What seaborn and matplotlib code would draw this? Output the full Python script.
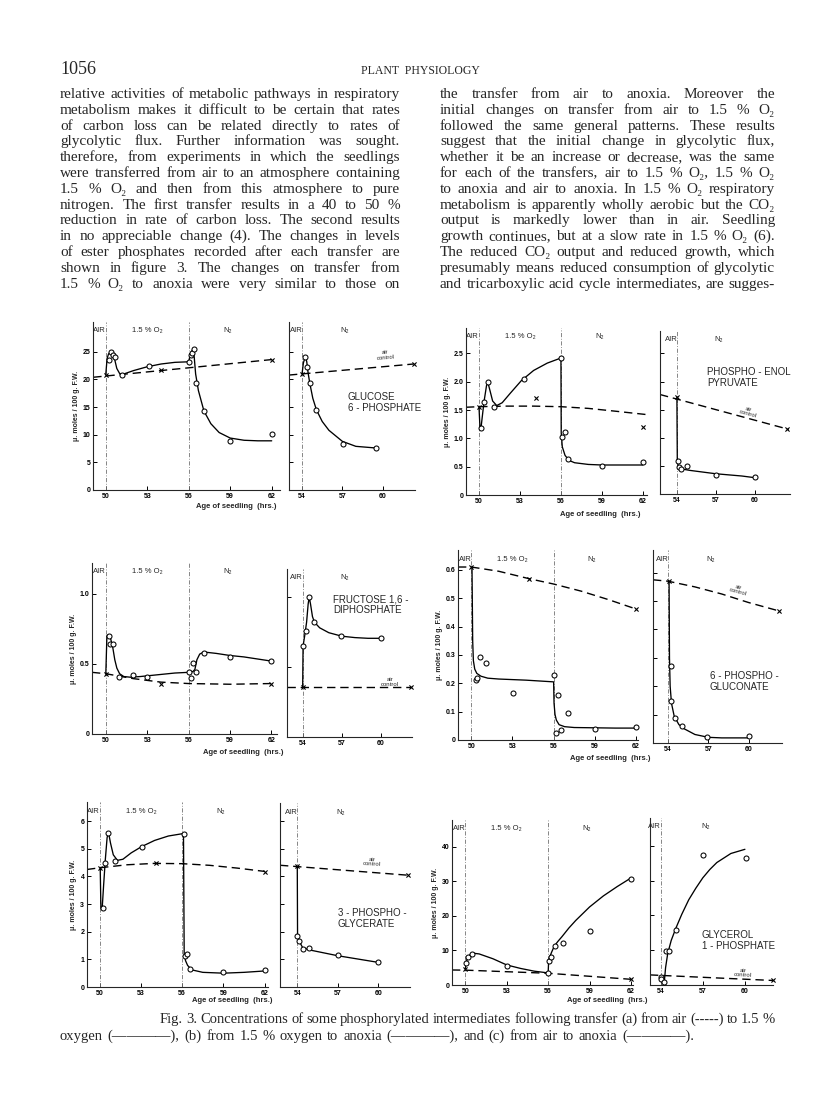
import matplotlib
matplotlib.use("Agg")
import matplotlib.pyplot as plt
import seaborn as sns

W, H = 816, 1109

# ---------------------------------------------------------
# Data (age in hrs vs umoles / 100 g F.W.)
# obs = open circles, fit = hand drawn curve, ctrl = air control
# ---------------------------------------------------------
# Glucose 6-phosphate: air -> 1.5 % O2 -> N2
g6p_obs_x = [50.25, 50.4, 50.55, 50.7, 51.2, 53.1, 56.05, 56.15, 56.25, 56.35, 56.55, 57.1, 59.0, 62.0]
g6p_obs_y = [23.5, 25.0, 24.5, 24.0, 20.9, 22.4, 23.2, 24.4, 24.8, 25.5, 19.3, 14.3, 8.8, 10.2]
g6p_fit_x = [50.0, 50.1, 50.2, 50.35, 50.5, 50.65, 50.8, 51.0, 51.2, 52.0, 53.0, 54.0, 55.0, 56.0,
             56.1, 56.2, 56.3, 56.4, 56.5, 56.7, 57.1, 57.6, 58.2, 59.0, 60.0, 61.0, 62.0]
g6p_fit_y = [20.8, 23.8, 24.6, 25.0, 24.6, 23.6, 22.0, 21.1, 20.9, 21.6, 22.3, 22.8, 23.1, 23.2,
             24.4, 25.0, 25.5, 24.0, 21.0, 18.0, 14.3, 12.0, 10.4, 9.4, 9.0, 8.9, 8.9]
g6p_ctrl_x = [49.1, 62.0]
g6p_ctrl_y = [20.4, 23.6]
g6p_cross_x = [50.0, 54.0, 62.0]
g6p_cross_y = [20.8, 21.8, 23.6]
# Glucose 6-phosphate: air -> N2
g6p_an_obs_x = [54.25, 54.4, 54.57, 55.07, 57.05, 59.5]
g6p_an_obs_y = [24.0, 22.2, 19.4, 14.5, 8.4, 7.6]
g6p_an_fit_x = [54.0, 54.1, 54.25, 54.35, 54.45, 54.57, 54.8, 55.07, 55.5, 56.0, 57.0, 58.0, 59.5]
g6p_an_fit_y = [21.0, 23.0, 24.2, 23.2, 21.2, 19.4, 16.6, 14.5, 12.4, 10.8, 8.8, 7.9, 7.6]
g6p_an_ctrl_x = [53.03, 62.3]
g6p_an_ctrl_y = [20.8, 22.8]
g6p_an_cross_x = [54.0, 62.3]
g6p_an_cross_y = [21.0, 22.8]

# Phospho-enol pyruvate
pep_obs_x = [50.15, 50.37, 50.65, 51.1, 53.3, 56.0, 56.1, 56.3, 56.5, 59.0, 62.0]
pep_obs_y = [1.19, 1.65, 1.99, 1.55, 2.05, 2.42, 1.03, 1.11, 0.64, 0.52, 0.59]
pep_fit_x = [50.0, 50.08, 50.15, 50.37, 50.55, 50.65, 50.8, 51.0, 51.3, 51.7, 52.3, 53.1, 54.0,
             55.0, 56.0, 56.02, 56.1, 56.3, 56.6, 57.0, 58.0, 59.0, 60.5, 62.0]
pep_fit_y = [1.56, 1.15, 1.19, 1.65, 1.93, 1.99, 1.85, 1.66, 1.58, 1.63, 1.8, 2.02, 2.2,
             2.33, 2.42, 1.1, 0.85, 0.7, 0.61, 0.57, 0.54, 0.53, 0.53, 0.53]
pep_ctrl_x = [49.05, 50.0, 52.0, 54.0, 56.0, 58.0, 60.0, 62.3]
pep_ctrl_y = [1.55, 1.56, 1.57, 1.57, 1.56, 1.53, 1.48, 1.42]
pep_cross_x = [50.0, 54.2, 62.0]
pep_cross_y = [1.56, 1.72, 1.2]
pep_an_obs_x = [54.05, 54.15, 54.35, 54.8, 57.0, 60.0]
pep_an_obs_y = [0.58, 0.48, 0.44, 0.49, 0.34, 0.30]
pep_an_fit_x = [54.0, 54.03, 54.1, 54.25, 54.5, 55.0, 56.0, 57.0, 58.0, 59.0, 60.0]
pep_an_fit_y = [1.72, 0.62, 0.48, 0.45, 0.44, 0.42, 0.39, 0.36, 0.34, 0.32, 0.29]
pep_an_ctrl_x = [52.7, 62.6]
pep_an_ctrl_y = [1.77, 1.15]
pep_an_cross_x = [54.0, 62.5]
pep_an_cross_y = [1.72, 1.16]

# Fructose 1,6-diphosphate
fdp_obs_x = [50.22, 50.27, 50.55, 50.99, 51.96, 53.0, 56.0, 56.2, 56.3, 56.5, 57.1, 59.0, 62.0]
fdp_obs_y = [0.70, 0.64, 0.64, 0.41, 0.42, 0.41, 0.44, 0.40, 0.51, 0.445, 0.58, 0.55, 0.52]
fdp_fit_x = [50.0, 50.08, 50.2, 50.35, 50.5, 50.65, 50.8, 51.0, 51.3, 51.8, 52.5, 53.0, 54.0,
             55.0, 56.0, 56.3, 56.45, 56.6, 56.8, 57.1, 58.0, 59.0, 60.0, 61.0, 62.0]
fdp_fit_y = [0.43, 0.70, 0.71, 0.68, 0.62, 0.53, 0.47, 0.43, 0.41, 0.405, 0.41, 0.415, 0.425,
             0.435, 0.44, 0.445, 0.46, 0.53, 0.57, 0.585, 0.575, 0.56, 0.55, 0.535, 0.52]
fdp_ctrl_x = [49.0, 50.0, 52.0, 54.0, 56.0, 59.0, 62.0]
fdp_ctrl_y = [0.44, 0.43, 0.395, 0.37, 0.36, 0.355, 0.36]
fdp_cross_x = [50.0, 54.0, 62.0]
fdp_cross_y = [0.43, 0.355, 0.36]
fdp_an_obs_x = [54.02, 54.25, 54.5, 54.9, 56.9, 60.0]
fdp_an_obs_y = [0.65, 0.76, 1.0, 0.82, 0.72, 0.71]
fdp_an_fit_x = [54.0, 54.03, 54.15, 54.3, 54.42, 54.5, 54.6, 54.75, 54.9, 55.3, 56.0, 57.0, 58.0, 59.0, 60.0]
fdp_an_fit_y = [0.36, 0.65, 0.72, 0.82, 0.95, 1.0, 0.95, 0.86, 0.82, 0.78, 0.745, 0.72, 0.71, 0.705, 0.705]
fdp_an_ctrl_x = [52.8, 62.3]
fdp_an_ctrl_y = [0.36, 0.36]
fdp_an_cross_x = [54.0, 62.3]
fdp_an_cross_y = [0.36, 0.36]

# 6-phosphogluconate
pgl_obs_x = [50.37, 50.42, 50.66, 51.1, 53.05, 56.06, 56.18, 56.3, 56.55, 57.08, 59.0, 62.0]
pgl_obs_y = [0.212, 0.22, 0.293, 0.271, 0.164, 0.229, 0.024, 0.159, 0.035, 0.096, 0.038, 0.047]
pgl_fit_x = [50.05, 50.1, 50.15, 50.25, 50.4, 50.7, 51.2, 52.0, 53.0, 54.0, 55.0, 56.0, 56.03,
             56.1, 56.2, 56.4, 56.8, 57.5, 59.0, 60.5, 62.0]
pgl_fit_y = [0.61, 0.35, 0.28, 0.25, 0.235, 0.225, 0.218, 0.215, 0.213, 0.211, 0.208, 0.205, 0.13,
             0.09, 0.07, 0.054, 0.047, 0.044, 0.043, 0.042, 0.042]
pgl_ctrl_x = [49.03, 50.0, 52.0, 54.2, 56.0, 58.0, 60.0, 62.0]
pgl_ctrl_y = [0.61, 0.61, 0.595, 0.569, 0.55, 0.525, 0.495, 0.462]
pgl_cross_x = [50.0, 54.2, 62.0]
pgl_cross_y = [0.61, 0.569, 0.462]
pgl_an_obs_x = [54.18, 54.25, 54.5, 55.0, 56.9, 60.0]
pgl_an_obs_y = [0.273, 0.147, 0.088, 0.059, 0.021, 0.024]
pgl_an_fit_x = [54.07, 54.1, 54.15, 54.25, 54.45, 54.8, 55.2, 56.0, 57.0, 58.0, 60.0]
pgl_an_fit_y = [0.57, 0.30, 0.20, 0.14, 0.095, 0.065, 0.05, 0.03, 0.02, 0.018, 0.018]
pgl_an_ctrl_x = [52.87, 54.0, 56.0, 58.0, 60.0, 62.3]
pgl_an_ctrl_y = [0.575, 0.57, 0.55, 0.525, 0.495, 0.465]
pgl_an_cross_x = [54.07, 62.25]
pgl_an_cross_y = [0.57, 0.465]

# 3-phosphoglycerate
pga_obs_x = [50.22, 50.41, 50.65, 51.13, 53.07, 56.13, 56.2, 56.35, 56.57, 59.0, 62.0]
pga_obs_y = [2.87, 4.48, 5.58, 4.55, 5.08, 5.52, 1.11, 1.2, 0.66, 0.54, 0.63]
pga_fit_x = [50.05, 50.1, 50.2, 50.3, 50.42, 50.55, 50.65, 50.8, 51.0, 51.3, 51.7, 52.3, 53.07,
             54.0, 55.0, 56.1, 56.15, 56.25, 56.4, 56.7, 57.5, 59.0, 60.5, 62.0]
pga_fit_y = [4.31, 2.85, 2.9, 3.7, 4.6, 5.4, 5.6, 5.2, 4.78, 4.58, 4.62, 4.85, 5.08,
             5.3, 5.46, 5.55, 1.2, 0.95, 0.78, 0.62, 0.53, 0.5, 0.53, 0.58]
pga_ctrl_x = [49.09, 50.0, 52.0, 54.0, 56.0, 58.0, 60.0, 62.0]
pga_ctrl_y = [4.25, 4.31, 4.42, 4.47, 4.46, 4.4, 4.3, 4.18]
pga_cross_x = [50.05, 54.08, 62.0]
pga_cross_y = [4.31, 4.48, 4.16]
pga_an_obs_x = [54.0, 54.15, 54.4, 54.9, 57.0, 60.0]
pga_an_obs_y = [1.86, 1.66, 1.39, 1.40, 1.14, 0.89]
pga_an_fit_x = [54.0, 54.02, 54.15, 54.4, 55.0, 56.0, 57.0, 58.0, 59.0, 60.0]
pga_an_fit_y = [4.36, 1.9, 1.65, 1.42, 1.33, 1.23, 1.13, 1.05, 0.97, 0.89]
pga_an_ctrl_x = [52.72, 62.2]
pga_an_ctrl_y = [4.4, 4.04]
pga_an_cross_x = [54.0, 62.2]
pga_an_cross_y = [4.36, 4.04]

# Glycerol 1-phosphate
gp_obs_x = [50.07, 50.2, 50.5, 53.0, 56.0, 56.07, 56.2, 56.48, 57.04, 59.0, 62.0]
gp_obs_y = [6.5, 8.2, 9.0, 5.5, 3.6, 7.0, 8.2, 11.3, 12.3, 15.7, 30.6]
gp_fit_x = [50.0, 50.05, 50.2, 50.4, 50.6, 51.0, 52.0, 53.0, 54.0, 55.0, 56.0, 56.03, 56.1,
            56.25, 56.45, 56.7, 57.0, 57.5, 58.0, 59.0, 60.0, 61.0, 62.0]
gp_fit_y = [4.5, 6.5, 8.2, 9.0, 9.2, 9.0, 7.6, 5.8, 4.8, 4.0, 3.5, 6.5, 8.0,
            9.5, 11.3, 12.6, 14.0, 16.5, 18.7, 22.6, 25.8, 28.5, 31.0]
gp_ctrl_x = [49.03, 50.0, 56.0, 62.0]
gp_ctrl_y = [4.35, 4.3, 3.4, 1.65]
gp_cross_x = [50.0, 62.0]
gp_cross_y = [4.5, 1.7]
gp_an_obs_x = [54.0, 54.05, 54.25, 54.35, 54.6, 55.1, 57.05, 60.05]
gp_an_obs_y = [2.4, 1.8, 1.0, 9.85, 9.7, 15.9, 37.5, 36.4]
gp_an_fit_x = [54.25, 54.35, 54.5, 54.75, 55.1, 55.5, 56.0, 56.5, 57.0, 57.5, 58.0, 59.0, 60.0]
gp_an_fit_y = [0.5, 5.0, 9.0, 12.8, 16.5, 20.3, 24.5, 27.8, 30.8, 33.2, 35.2, 37.8, 39.0]
gp_an_ctrl_x = [53.24, 62.0]
gp_an_ctrl_y = [2.9, 1.3]
gp_an_cross_x = [62.0]
gp_an_cross_y = [1.3]

big_xticks = [50, 53, 56, 59, 62]
small_xticks = [54, 57, 60]

# ---------------------------------------------------------
# Page text
# ---------------------------------------------------------
left_col = [
    "relative activities of metabolic pathways in respiratory",
    "metabolism makes it difficult to be certain that rates",
    "of carbon loss can be related directly to rates of",
    "glycolytic flux. Further information was sought.",
    "therefore, from experiments in which the seedlings",
    "were transferred from air to an atmosphere containing",
    "1.5 % O\u2082 and then from this atmosphere to pure",
    "nitrogen. The first transfer results in a 40 to 50 %",
    "reduction in rate of carbon loss. The second results",
    "in no appreciable change (4). The changes in levels",
    "of ester phosphates recorded after each transfer are",
    "shown in figure 3. The changes on transfer from",
    "1.5 % O\u2082 to anoxia were very similar to those on",
]
right_col = [
    "the transfer from air to anoxia. Moreover the",
    "initial changes on transfer from air to 1.5 % O\u2082",
    "followed the same general patterns. These results",
    "suggest that the initial change in glycolytic flux,",
    "whether it be an increase or decrease, was the same",
    "for each of the transfers, air to 1.5 % O\u2082, 1.5 % O\u2082",
    "to anoxia and air to anoxia. In 1.5 % O\u2082 respiratory",
    "metabolism is apparently wholly aerobic but the CO\u2082",
    "output is markedly lower than in air. Seedling",
    "growth continues, but at a slow rate in 1.5 % O\u2082 (6).",
    "The reduced CO\u2082 output and reduced growth, which",
    "presumably means reduced consumption of glycolytic",
    "and tricarboxylic acid cycle intermediates, are sugges-",
]
caption = [
    "Fig. 3.  Concentrations of some phosphorylated intermediates following transfer (a) from air (-----) to 1.5 %",
    "oxygen (\u2014\u2014\u2014\u2014), (b) from 1.5 % oxygen to anoxia (\u2014\u2014\u2014\u2014), and (c) from air to anoxia (\u2014\u2014\u2014\u2014).",
]

SERIF = ["Liberation Serif", "DejaVu Serif"]
SANS = ["Liberation Sans", "DejaVu Sans"]


# ---------------------------------------------------------
# Helpers
# ---------------------------------------------------------
def px_axes(fig, x0, x1, y0, y1):
    return fig.add_axes([x0 / W, 1 - y1 / H, (x1 - x0) / W, (y1 - y0) / H])


def put_line(fig, renderer, text, x0, x1, y, size, justify=True):
    words = [w for w in text.split(" ") if w]
    arts = [fig.text(0, 1 - y / H, w, fontsize=size, family=SERIF, va="baseline") for w in words]
    widths = [a.get_window_extent(renderer).width for a in arts]
    n = len(arts)
    # shrink a line that would not fit with at least a thin space between words
    while justify and n > 1 and (x1 - x0 - sum(widths)) / (n - 1) < 2.5:
        size *= 0.97
        for a in arts:
            a.set_fontsize(size)
        widths = [a.get_window_extent(renderer).width for a in arts]
    gap = (x1 - x0 - sum(widths)) / (n - 1) if (justify and n > 1) else size * 0.45
    x = x0
    for a, w in zip(arts, widths):
        a.set_x(x / W)
        x += w + gap


def draw_panel(ax, obs_x, obs_y, fit_x, fit_y, ctrl_x, ctrl_y, cross_x, cross_y,
               xlim, ylim, xticks, yticks, ylabels, shifts, zones):
    for s in shifts:
        ax.axvline(s, color="0.45", lw=0.6, ls=(0, (5, 2, 1, 2)), zorder=1)
    sns.lineplot(x=ctrl_x, y=ctrl_y, ax=ax, color="black", lw=1.0, sort=False,
                 estimator=None, linestyle=(0, (6, 3.5)))
    sns.lineplot(x=fit_x, y=fit_y, ax=ax, color="black", lw=0.95, sort=False, estimator=None)
    sns.scatterplot(x=cross_x, y=cross_y, ax=ax, marker="x", s=9, color="black",
                    linewidth=0.8, zorder=4, clip_on=False)
    sns.scatterplot(x=obs_x, y=obs_y, ax=ax, marker="o", s=13, color="white",
                    edgecolor="black", linewidth=0.75, zorder=5, clip_on=False)
    ax.set_xlim(*xlim)
    ax.set_ylim(*ylim)
    ax.set_xticks(xticks)
    ax.set_xticklabels([str(t) for t in xticks], fontsize=5, family=SANS, weight="bold")
    ax.set_yticks(yticks)
    if ylabels:
        ax.set_yticklabels(ylabels, fontsize=5, family=SANS, weight="bold")
        ax.set_ylabel("\u03bc. moles / 100 g. F.W.", fontsize=5, family=SANS, weight="bold", labelpad=2)
    else:
        ax.set_yticklabels([])
        ax.set_ylabel("")
    ax.set_xlabel("")
    ax.tick_params(direction="in", length=3, width=0.7, pad=2, colors="black")
    for side in ["left", "bottom"]:
        ax.spines[side].set_linewidth(0.8)
    sns.despine(ax=ax)
    for label, xz in zones:
        ax.text(xz, 0.95, label, transform=ax.get_xaxis_transform(), fontsize=5.5,
                family=SANS, ha="center", va="center")


# ---------------------------------------------------------
# Figure
# ---------------------------------------------------------
sns.set_style("ticks")
plt.rcParams["font.family"] = SANS

fig = plt.figure(figsize=(W / 100, H / 100), dpi=100)
renderer = fig.canvas.get_renderer()

big_zones = [("AIR", 49.55), ("1.5 % O\u2082", 53.0), ("N\u2082", 58.8)]
small_zones = [("AIR", 53.55), ("N\u2082", 57.2)]

panels = [
    dict(box=(93, 280, 322, 490), data=(g6p_obs_x, g6p_obs_y, g6p_fit_x, g6p_fit_y, g6p_ctrl_x, g6p_ctrl_y, g6p_cross_x, g6p_cross_y),
         xlim=(49.08, 62.6), ylim=(0, 30.4), yticks=[0, 5, 10, 15, 20, 25], ylabels=["0", "5", "10", "15", "20", "25"], big=True),
    dict(box=(289, 415, 322, 490), data=(g6p_an_obs_x, g6p_an_obs_y, g6p_an_fit_x, g6p_an_fit_y, g6p_an_ctrl_x, g6p_an_ctrl_y, g6p_an_cross_x, g6p_an_cross_y),
         xlim=(53.03, 62.4), ylim=(0, 30.4), yticks=[5, 10, 15, 20, 25], ylabels=None, big=False),
    dict(box=(466, 647, 328, 495), data=(pep_obs_x, pep_obs_y, pep_fit_x, pep_fit_y, pep_ctrl_x, pep_ctrl_y, pep_cross_x, pep_cross_y),
         xlim=(49.05, 62.3), ylim=(0, 2.95), yticks=[0, 0.5, 1.0, 1.5, 2.0, 2.5], ylabels=["0", "0.5", "1.0", "1.5", "2.0", "2.5"], big=True),
    dict(box=(660, 790, 331, 494), data=(pep_an_obs_x, pep_an_obs_y, pep_an_fit_x, pep_an_fit_y, pep_an_ctrl_x, pep_an_ctrl_y, pep_an_cross_x, pep_an_cross_y),
         xlim=(52.7, 62.7), ylim=(0, 2.9), yticks=[0.5, 1.0, 1.5, 2.0, 2.5], ylabels=None, big=False),
    dict(box=(92, 277, 563, 734), data=(fdp_obs_x, fdp_obs_y, fdp_fit_x, fdp_fit_y, fdp_ctrl_x, fdp_ctrl_y, fdp_cross_x, fdp_cross_y),
         xlim=(49.0, 62.4), ylim=(0, 1.22), yticks=[0, 0.5, 1.0], ylabels=["0", "0.5", "1.0"], big=True),
    dict(box=(287, 412, 569, 737), data=(fdp_an_obs_x, fdp_an_obs_y, fdp_an_fit_x, fdp_an_fit_y, fdp_an_ctrl_x, fdp_an_ctrl_y, fdp_an_cross_x, fdp_an_cross_y),
         xlim=(52.8, 62.37), ylim=(0, 1.2), yticks=[0.5, 1.0], ylabels=None, big=False),
    dict(box=(458, 638, 550, 740), data=(pgl_obs_x, pgl_obs_y, pgl_fit_x, pgl_fit_y, pgl_ctrl_x, pgl_ctrl_y, pgl_cross_x, pgl_cross_y),
         xlim=(49.03, 62.15), ylim=(0, 0.67), yticks=[0, 0.1, 0.2, 0.3, 0.4, 0.5, 0.6], ylabels=["0", "0.1", "0.2", "0.3", "0.4", "0.5", "0.6"], big=True),
    dict(box=(653, 782, 550, 743), data=(pgl_an_obs_x, pgl_an_obs_y, pgl_an_fit_x, pgl_an_fit_y, pgl_an_ctrl_x, pgl_an_ctrl_y, pgl_an_cross_x, pgl_an_cross_y),
         xlim=(52.87, 62.5), ylim=(0, 0.68), yticks=[0.1, 0.2, 0.3, 0.4, 0.5, 0.6], ylabels=None, big=False),
    dict(box=(87, 268, 802, 987), data=(pga_obs_x, pga_obs_y, pga_fit_x, pga_fit_y, pga_ctrl_x, pga_ctrl_y, pga_cross_x, pga_cross_y),
         xlim=(49.09, 62.24), ylim=(0, 6.69), yticks=[0, 1, 2, 3, 4, 5, 6], ylabels=["0", "1", "2", "3", "4", "5", "6"], big=True),
    dict(box=(280, 410, 803, 987), data=(pga_an_obs_x, pga_an_obs_y, pga_an_fit_x, pga_an_fit_y, pga_an_ctrl_x, pga_an_ctrl_y, pga_an_cross_x, pga_an_cross_y),
         xlim=(52.72, 62.35), ylim=(0, 6.65), yticks=[1, 2, 3, 4, 5, 6], ylabels=None, big=False),
    dict(box=(452, 633, 820, 985), data=(gp_obs_x, gp_obs_y, gp_fit_x, gp_fit_y, gp_ctrl_x, gp_ctrl_y, gp_cross_x, gp_cross_y),
         xlim=(49.03, 62.15), ylim=(0, 47.8), yticks=[0, 10, 20, 30, 40], ylabels=["0", "10", "20", "30", "40"], big=True),
    dict(box=(650, 773, 818, 985), data=(gp_an_obs_x, gp_an_obs_y, gp_an_fit_x, gp_an_fit_y, gp_an_ctrl_x, gp_an_ctrl_y, gp_an_cross_x, gp_an_cross_y),
         xlim=(53.24, 62.0), ylim=(0, 48), yticks=[10, 20, 30, 40], ylabels=None, big=False),
]

for p in panels:
    ax = px_axes(fig, *p["box"])
    draw_panel(ax, *p["data"], xlim=p["xlim"], ylim=p["ylim"],
               xticks=big_xticks if p["big"] else small_xticks,
               yticks=p["yticks"], ylabels=p["ylabels"],
               shifts=[50, 56] if p["big"] else [54],
               zones=big_zones if p["big"] else small_zones)

# compound names
names = [
    ("GLUCOSE\n6 - PHOSPHATE", 348, 392),
    ("PHOSPHO - ENOL\nPYRUVATE", 707, 367),
    ("FRUCTOSE 1,6 -\nDIPHOSPHATE", 333, 594),
    ("6 - PHOSPHO -\nGLUCONATE", 710, 671),
    ("3 - PHOSPHO -\nGLYCERATE", 338, 908),
    ("GLYCEROL\n1 - PHOSPHATE", 702, 930),
]
for txt, x, y in names:
    fig.text(x / W, 1 - y / H, txt, fontsize=7, family=SANS, ha="left", va="top", linespacing=1.15)

# "air control" notes on the small panels
notes = [(385, 355, 5), (748, 412, -15), (390, 682, 0), (738, 590, -15), (372, 862, -3), (743, 973, -3)]
for x, y, rot in notes:
    fig.text(x / W, 1 - y / H, "air\ncontrol", fontsize=4.3, family=SANS, ha="center",
             va="center", rotation=rot, linespacing=0.9)

# x axis titles
for x, y in [(236, 507), (600, 515), (243, 752), (610, 759), (232, 1001), (607, 1001)]:
    fig.text(x / W, 1 - y / H, "Age of seedling  (hrs.)", fontsize=5.5, family=SANS,
             weight="bold", ha="center", va="center")

# header and body text
fig.text(60 / W, 1 - 74 / H, "1056", fontsize=13, family=SERIF, va="baseline")
fig.text(420 / W, 1 - 74 / H, "PLANT  PHYSIOLOGY", fontsize=8.5, family=SERIF,
         va="baseline", ha="center")
for i, line in enumerate(left_col):
    put_line(fig, renderer, line, 60, 400, 98 + i * 15.8, 11)
for i, line in enumerate(right_col):
    put_line(fig, renderer, line, 440, 775, 98 + i * 15.8, 11)
put_line(fig, renderer, caption[0], 160, 775, 1023, 10.5)
put_line(fig, renderer, caption[1], 60, 720, 1040, 10.5, justify=False)

fig.savefig("out.png", dpi=100, facecolor="white")
